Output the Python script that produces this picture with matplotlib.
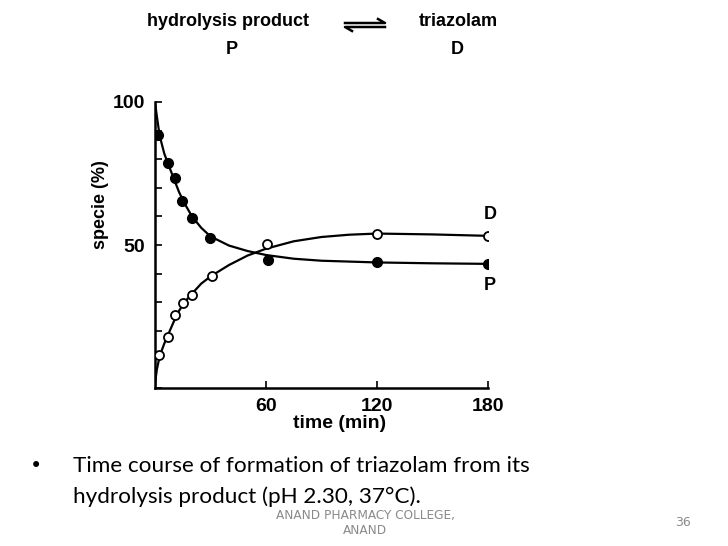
import matplotlib.pyplot as plt

# measured points, hydrolysis product P (filled) and triazolam D (open)
p_time = [1.8, 7.2, 10.8, 14.4, 19.8, 29.7, 61, 120, 180]
p_vals = [88.5, 78.8, 73.3, 65.5, 59.3, 52.6, 44.8, 44.2, 43.2]
d_time = [2.2, 7.2, 10.8, 15, 19.8, 30.6, 60.7, 120, 180]
d_vals = [11.4, 17.7, 25.5, 29.6, 32.5, 39.2, 50.5, 53.7, 53.1]

# fitted curves
p_fit_t = [0, 1, 2, 3, 5, 7, 10, 13, 16, 20, 25, 30, 40, 50, 60, 75, 90, 120, 150, 180]
p_fit_v = [100, 95, 90.5, 87, 82, 78.5, 73.5, 68.5, 64.5, 60, 56, 53, 49.8, 47.9, 46.5, 45.2, 44.5, 43.9, 43.6, 43.4]
d_fit_t = [0, 0.5, 1, 2, 3, 5, 7, 10, 13, 16, 20, 25, 30, 40, 50, 60, 75, 90, 105, 120, 150, 180]
d_fit_v = [0, 4, 6.5, 9.5, 12, 15.5, 18.5, 23, 27, 30, 33, 36.5, 39, 43, 46.3, 48.7, 51.3, 52.8, 53.6, 54, 53.7, 53.2]

x_ticks = [60, 120, 180]
y_labels = {50: "50", 100: "100"}

W, H = 728, 546
fig = plt.figure(figsize=(W / 100, H / 100), dpi=100)
ax = fig.add_axes([155 / W, 1 - 388 / H, 333 / W, 286 / H])

ax.plot(p_fit_t, p_fit_v, color="black", lw=1.6, zorder=2)
ax.plot(d_fit_t, d_fit_v, color="black", lw=1.6, zorder=2)
ax.plot(p_time, p_vals, "o", ms=7, color="black", zorder=3)
ax.plot(d_time, d_vals, "o", ms=6.5, mfc="white", mec="black", mew=1.3, zorder=3)

ax.set_xlim(0, 180)
ax.set_ylim(0, 100)
for s in ["top", "right"]:
    ax.spines[s].set_visible(False)
for s in ["left", "bottom"]:
    ax.spines[s].set_linewidth(1.8)

bold = dict(family="Liberation Sans", weight="bold")
ax.set_xticks(x_ticks)
ax.set_xticklabels([str(t) for t in x_ticks], fontsize=14, **bold)
ax.set_yticks(range(0, 101, 10))
ax.set_yticklabels([y_labels.get(v, "") for v in range(0, 101, 10)], fontsize=14, **bold)
ax.tick_params(direction="in", length=5, width=1.2, pad=7)

ax.text(181, 60.5, "D", fontsize=13, ha="center", va="center", **bold)
ax.text(181, 36, "P", fontsize=13, ha="center", va="center", **bold)


def fx(x):
    return x / W


def fy(y):
    return 1 - y / H


# axis titles, placed as in the scan
fig.text(fx(340), fy(423), "time (min)", fontsize=14, ha="center", va="center", **bold)
fig.text(fx(100), fy(205), "specie (%)", fontsize=13, rotation=90,
         ha="center", va="center", **bold)

# header reaction scheme
fig.text(fx(228), fy(22), "hydrolysis product", fontsize=13, ha="center", va="center", **bold)
fig.text(fx(232), fy(50), "P", fontsize=13, ha="center", va="center", **bold)
fig.text(fx(458), fy(22), "triazolam", fontsize=13, ha="center", va="center", **bold)
fig.text(fx(457), fy(50), "D", fontsize=13, ha="center", va="center", **bold)
fig.add_artist(plt.Line2D([fx(345), fx(385), fx(378)], [fy(23), fy(23), fy(19)],
                          color="black", lw=1.8))
fig.add_artist(plt.Line2D([fx(385), fx(345), fx(352)], [fy(27), fy(27), fy(31)],
                          color="black", lw=1.8))

# slide text
fig.text(fx(30), fy(466), "\u2022", fontsize=15, ha="left", va="center", family="DejaVu Sans")
fig.text(fx(73), fy(466), "Time course of formation of triazolam from its",
         fontsize=16.2, ha="left", va="center", family="Lato")
fig.text(fx(73), fy(497), "hydrolysis product (pH 2.30, 37\u00b0C).",
         fontsize=16.2, ha="left", va="center", family="Lato")
fig.text(fx(365), fy(515), "ANAND PHARMACY COLLEGE,", fontsize=8.7, color="#8a8a8a",
         ha="center", va="center", family="Liberation Sans Narrow")
fig.text(fx(365), fy(530), "ANAND", fontsize=8.7, color="#8a8a8a",
         ha="center", va="center", family="Liberation Sans Narrow")
fig.text(fx(683), fy(522), "36", fontsize=9, color="#8a8a8a",
         ha="center", va="center", family="Liberation Sans Narrow")

fig.savefig("out.png", dpi=100)
